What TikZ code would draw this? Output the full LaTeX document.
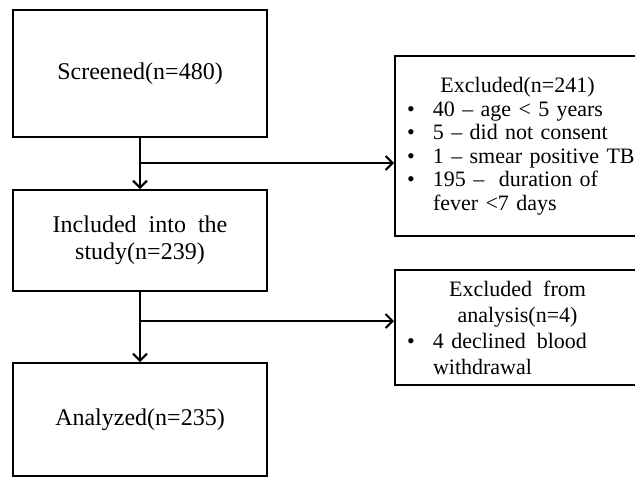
\documentclass[tikz,border=0pt]{standalone}
\usepackage{fontspec}
\setmainfont{Liberation Serif}
\usetikzlibrary{arrows.meta}

\tikzset{
    stagebox/.style={draw=black, line width=1pt, rectangle, minimum width=127pt, align=center, font=\fontsize{12}{13.5}\selectfont},
    exclbox/.style={draw=black, line width=1pt, rectangle, minimum width=130pt, text width=118pt, inner xsep=6pt, inner ysep=2pt, align=left},
    flowarrow/.style={line width=1pt, -{Straight Barb[length=3.5pt, width=7pt]}},
}
\newcommand{\bulletline}[1]{\mbox{\makebox[13pt][l]{\textbullet}#1}}
\newcommand{\boxtitle}[1]{\makebox[110.5pt]{#1}}

\begin{document}
\begin{tikzpicture}[x=0.5pt, y=-0.5pt]
    \useasboundingbox (0,0) rectangle (635,477);
    \clip (0,0) rectangle (635,477);
    % main flow
    \node [stagebox, minimum height=63.5pt] (screened) at (140,73.5) {Screened(n=480)};
    \node [stagebox, minimum height=50.5pt] (included) at (140,240.5) {Included\ \ into\ \ the\\study(n=239)};
    \node [stagebox, minimum height=56.5pt] (analyzed) at (140,419.5) {Analyzed(n=235)};
    % exclusions, right edge runs off the page
    \node [exclbox, minimum height=90pt, font=\fontsize{11}{11.75}\selectfont] (excluded) at (525,146) {
        \boxtitle{Excluded(n=241)}\\
        \bulletline{40 -- age < 5 years}\\
        \bulletline{5 -- did not consent}\\
        \bulletline{1 -- smear positive TB}\\
        \bulletline{195 --\ \ duration of}\\
        \hspace*{13pt}fever <7 days
    };
    \node [exclbox, minimum height=57.5pt, font=\fontsize{11}{13}\selectfont] (notanalyzed) at (525,327.5) {
        \boxtitle{Excluded\hspace{0.5em}from}\\
        \boxtitle{analysis(n=4)}\\
        \bulletline{4 declined\hspace{0.5em}blood}\\
        \hspace*{13pt}withdrawal
    };
    \coordinate (split1) at (140,163);
    \coordinate (split2) at (140,321);
    \draw [flowarrow] (screened) -- (included);
    \draw [flowarrow] (split1) -- (split1 -| excluded.west);
    \draw [flowarrow] (included) -- (analyzed);
    \draw [flowarrow] (split2) -- (split2 -| notanalyzed.west);
\end{tikzpicture}
\end{document}
